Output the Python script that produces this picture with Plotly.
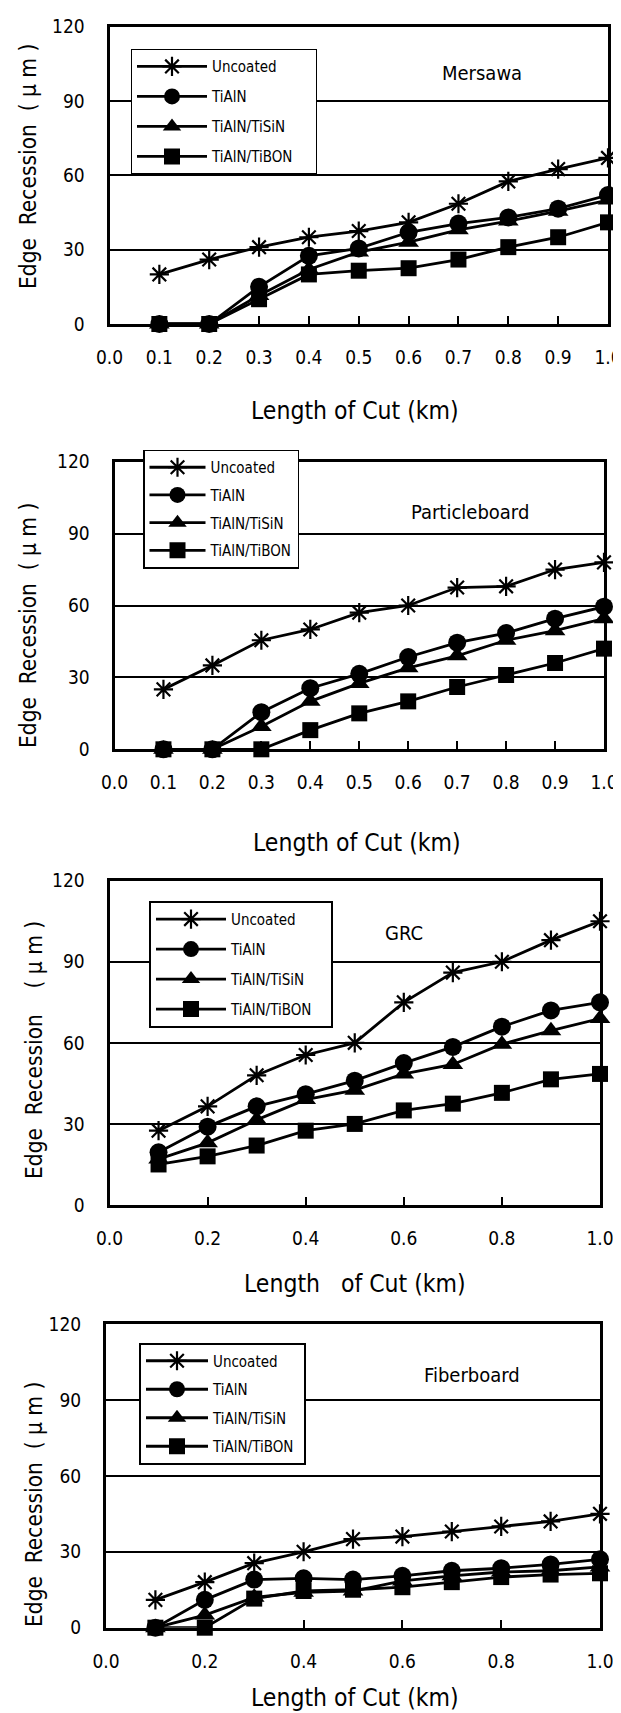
import plotly.graph_objects as go

# ---------------- data ----------------
x_cut = [0.1, 0.2, 0.3, 0.4, 0.5, 0.6, 0.7, 0.8, 0.9, 1.0]
series_names = ["Uncoated", "TiAlN", "TiAlN/TiSiN", "TiAlN/TiBON"]
panel_titles = ["Mersawa", "Particleboard", "GRC", "Fiberboard"]

mersawa_uncoated = [20, 26, 31, 35, 37.5, 41, 48.5, 57.5, 62.5, 67]
mersawa_tialn    = [0, 0, 15, 27.5, 30.5, 37, 40.5, 43, 46.5, 52]
mersawa_tisin    = [0, 0, 11.5, 22, 29, 33, 38, 41.5, 45.5, 50]
mersawa_tibon    = [0, 0, 10, 20, 21.5, 22.5, 26, 31, 35, 41]

particle_uncoated = [25, 35, 45.5, 50, 57, 60, 67.5, 68, 75, 78]
particle_tialn    = [0, 0, 15.5, 25.5, 31.5, 38.5, 44.5, 48.5, 54.5, 59.5]
particle_tisin    = [0, 0, 9.5, 20, 27.5, 34, 39, 45.5, 49.5, 54.5]
particle_tibon    = [0, 0, 0, 8, 15, 20, 26, 31, 36, 42]

grc_uncoated = [27.5, 36.5, 48, 55.5, 60, 75, 86, 90, 98, 105]
grc_tialn    = [19.5, 29, 36.5, 41, 46, 52.5, 58.5, 66, 72, 75]
grc_tisin    = [17, 23, 31.5, 39, 42.5, 48.5, 52, 59.5, 64.5, 69]
grc_tibon    = [15, 18, 22, 27.5, 30, 35, 37.5, 41.5, 46.5, 48.5]

fiber_uncoated = [11, 18, 25.5, 30, 35, 36, 38, 40, 42, 45]
fiber_tialn    = [0, 11, 19, 19.5, 19, 20.5, 22.5, 23.5, 25, 27]
fiber_tisin    = [0, 5, 12, 14, 14.5, 18.5, 20.5, 22, 22.5, 24]
fiber_tibon    = [0, 0, 11.5, 14.5, 15, 16, 18, 20, 21, 21.5]

panel_data = [
    [mersawa_uncoated, mersawa_tialn, mersawa_tisin, mersawa_tibon],
    [particle_uncoated, particle_tialn, particle_tisin, particle_tibon],
    [grc_uncoated, grc_tialn, grc_tisin, grc_tibon],
    [fiber_uncoated, fiber_tialn, fiber_tisin, fiber_tibon],
]
x_ticks_fine = [0.0, 0.1, 0.2, 0.3, 0.4, 0.5, 0.6, 0.7, 0.8, 0.9, 1.0]
x_ticks_coarse = [0.0, 0.2, 0.4, 0.6, 0.8, 1.0]
y_ticks = [0, 30, 60, 90, 120]
x_title_texts = ["Length of Cut (km)", "Length of Cut (km)", "Length   of Cut (km)", "Length of Cut (km)"]
y_title_texts = ["Edge  Recession  ( \u03bc m )", "Edge  Recession  ( \u03bc m )",
                 "Edge  Recession    ( \u03bc m )", "Edge  Recession  ( \u03bc m )"]

# ---------------- styling / layout (pixels of the 621x1713 page) ----------------
PAGE_W, PAGE_H = 621, 1713
OFF = 8  # default page body margin
W, H = PAGE_W - OFF, PAGE_H - OFF
FONT = "DejaVu Sans Condensed, DejaVu Sans, sans-serif"

def px(x):
    return (x - OFF) / W

def py(y):
    return 1 - (y - OFF) / H

# plot areas: (left, right, top, bottom) in page pixels
areas = [
    (109.5, 608, 26.5, 324),
    (114.5, 604, 461.7, 749.3),
    (109.5, 600, 880.7, 1205),
    (106, 600, 1324, 1627.7),
]
# legend: left, top, border width, group gap, item width, right padding (nbsp count)
legend_pos = [
    (131, 49.2, 1, 7.5, 70, 4),
    (143, 449.5, 1.5, 5.2, 56, 0),
    (149, 900.8, 2, 7.5, 70, 3),
    (139, 1342.5, 2, 6, 62, 1),
]
title_pos = [(482, 73), (470, 512), (404, 933), (472, 1375)]
xtitle_pos = [(355, 410), (357, 842), (355, 1283), (355, 1697)]
ytitle_pos = [(28, 167), (28, 626), (34, 1050), (34, 1505)]
tick_sets = [x_ticks_fine, x_ticks_fine, x_ticks_coarse, x_ticks_coarse]

symbols = ["asterisk-open", "circle", "triangle-up", "square"]
msizes = [16, 18, 18, 16]

fig = go.Figure()

for p in range(4):
    ax = "" if p == 0 else str(p + 1)
    leg = "legend" if p == 0 else "legend" + str(p + 1)
    pad = "\u00a0" * legend_pos[p][5]
    for s in range(4):
        fig.add_trace(go.Scatter(
            x=x_cut, y=panel_data[p][s], name=series_names[s] + pad,
            mode="lines+markers",
            line=dict(color="black", width=2.8),
            marker=dict(symbol=symbols[s], size=msizes[s], color="black",
                        line=dict(color="black", width=2.2 if s == 0 else 0)),
            xaxis="x" + ax, yaxis="y" + ax, legend=leg,
            legendgroup="p%d_s%d" % (p, s), cliponaxis=False,
        ))

layout = dict(
    width=W, height=H, margin=dict(l=0, r=0, t=0, b=0, autoexpand=False),
    paper_bgcolor="white", plot_bgcolor="white",
    font=dict(family=FONT, color="black", size=18),
    showlegend=True, annotations=[],
)

for p in range(4):
    l, r, t, b = areas[p]
    ax = "" if p == 0 else str(p + 1)
    layout["xaxis" + ax] = dict(
        domain=[px(l), px(r)], anchor="y" + ax, range=[0, 1], automargin=False,
        tickvals=tick_sets[p], ticktext=["%.1f" % v for v in tick_sets[p]],
        ticks="inside", ticklen=8, tickwidth=2, tickcolor="black",
        showline=True, mirror=True, linecolor="black", linewidth=3,
        showgrid=False, zeroline=False, ticklabeloverflow="allow",
        tickfont=dict(family=FONT, size=19), ticklabelstandoff=14,
    )
    layout["yaxis" + ax] = dict(
        domain=[py(b), py(t)], anchor="x" + ax, range=[0, 120], automargin=False,
        tickvals=y_ticks, ticks="",
        showline=True, mirror=True, linecolor="black", linewidth=3,
        showgrid=True, gridcolor="black", gridwidth=1.6, zeroline=False,
        tickfont=dict(family=FONT, size=19), ticklabelstandoff=18,
    )
    lx, ly, bw, gap, iw, _ = legend_pos[p]
    layout["legend" if p == 0 else "legend" + str(p + 1)] = dict(
        x=px(lx), y=py(ly), xanchor="left", yanchor="top",
        bgcolor="white", bordercolor="black", borderwidth=bw,
        font=dict(family=FONT, size=15), itemwidth=iw,
        tracegroupgap=gap,
    )
    tx, ty = title_pos[p]
    layout["annotations"].append(dict(
        x=px(tx), y=py(ty), xref="paper", yref="paper", text=panel_titles[p],
        showarrow=False, font=dict(family=FONT, size=20), xanchor="center", yanchor="middle"))
    xx, xy = xtitle_pos[p]
    layout["annotations"].append(dict(
        x=px(xx), y=py(xy), xref="paper", yref="paper", text=x_title_texts[p],
        showarrow=False, font=dict(family=FONT, size=24.5), xanchor="center", yanchor="middle"))
    yx, yy = ytitle_pos[p]
    layout["annotations"].append(dict(
        x=px(yx), y=py(yy), xref="paper", yref="paper", text=y_title_texts[p],
        showarrow=False, textangle=-90, font=dict(family=FONT, size=22.5),
        xanchor="center", yanchor="middle"))

fig.update_layout(**layout)
fig.write_html("out.html")
